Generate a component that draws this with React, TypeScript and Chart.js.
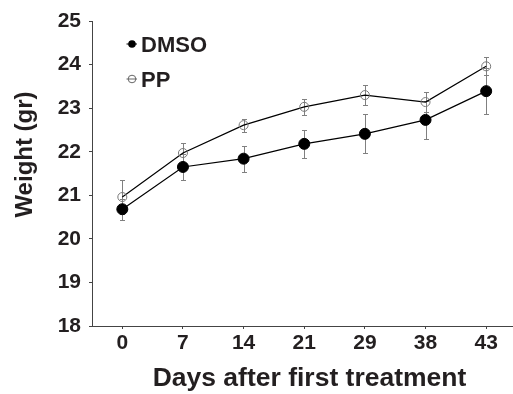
import React, { useEffect, useRef } from "react";
import { Chart, registerables } from "chart.js";

Chart.register(...registerables);

// ---- data ----
const days = ["0", "7", "14", "21", "29", "38", "43"];
const dmsoValues = [20.68, 21.65, 21.84, 22.18, 22.41, 22.73, 23.39];
const dmsoErrors = [0.24, 0.3, 0.3, 0.32, 0.45, 0.43, 0.53];
const ppValues = [20.96, 21.97, 22.61, 23.03, 23.3, 23.14, 23.96];
const ppErrors = [0.4, 0.24, 0.15, 0.18, 0.23, 0.24, 0.21];
const yMin = 18;
const yMax = 25;
const yStep = 1;
const seriesNames = ["DMSO", "PP"];
const xTitle = "Days after first treatment";
const yTitle = "Weight (gr)";

const FONT = "'Liberation Sans', Arial, Helvetica, sans-serif";
const TEXT = "#231f20";
const AXIS = "#444444";
const errorSets = [dmsoErrors, ppErrors];

const errorBarsPlugin = {
  id: "errorBars",
  beforeDatasetsDraw(chart: any) {
    const { ctx } = chart;
    const ys = chart.scales.y;
    chart.data.datasets.forEach((ds: any, di: number) => {
      const meta = chart.getDatasetMeta(di);
      const errs = errorSets[di];
      ctx.save();
      ctx.strokeStyle = "#808080";
      ctx.lineWidth = 1;
      meta.data.forEach((pt: any, i: number) => {
        const v = ds.data[i];
        const e = errs[i];
        const x = Math.round(pt.x) + 0.5;
        const top = Math.round(ys.getPixelForValue(v + e)) + 0.5;
        const bot = Math.round(ys.getPixelForValue(v - e)) + 0.5;
        ctx.beginPath();
        ctx.moveTo(x, top);
        ctx.lineTo(x, bot);
        ctx.moveTo(x - 2.5, top);
        ctx.lineTo(x + 2.5, top);
        ctx.moveTo(x - 2.5, bot);
        ctx.lineTo(x + 2.5, bot);
        ctx.stroke();
      });
      ctx.restore();
    });
  },
};

const textPlugin = {
  id: "customText",
  afterDraw(chart: any) {
    const { ctx, chartArea } = chart;
    ctx.save();
    ctx.fillStyle = TEXT;
    // x title
    ctx.font = `bold 26.5px ${FONT}`;
    ctx.textAlign = "center";
    ctx.textBaseline = "alphabetic";
    ctx.fillText(xTitle, 309.5, chartArea.bottom + 60);
    // y title
    ctx.save();
    ctx.translate(31.5, 154.5);
    ctx.rotate(-Math.PI / 2);
    ctx.font = `bold 24px ${FONT}`;
    ctx.fillText(yTitle, 0, 0);
    ctx.restore();
    // legend
    const rows = [
      { y: 44, text: seriesNames[0], filled: true },
      { y: 79, text: seriesNames[1], filled: false },
    ];
    rows.forEach((r) => {
      ctx.strokeStyle = r.filled ? "#000" : "#666";
      ctx.lineWidth = 1;
      ctx.beginPath();
      ctx.moveTo(126.5, r.y);
      ctx.lineTo(137, r.y);
      ctx.stroke();
      ctx.beginPath();
      ctx.arc(132, r.y, 3.8, 0, Math.PI * 2);
      if (r.filled) {
        ctx.fillStyle = "#000";
        ctx.fill();
      } else {
        ctx.stroke();
      }
      ctx.fillStyle = TEXT;
      ctx.font = `bold 22px ${FONT}`;
      ctx.textAlign = "left";
      ctx.textBaseline = "alphabetic";
      ctx.fillText(r.text, 141, r.y + 7.5);
    });
    ctx.restore();
  },
};

export default function App() {
  const ref = useRef<HTMLCanvasElement | null>(null);
  useEffect(() => {
    if (!ref.current) return;
    const chart = new Chart(ref.current, {
      type: "line",
      data: {
        labels: days,
        datasets: [
          {
            label: seriesNames[0],
            data: dmsoValues,
            borderColor: "#000",
            borderWidth: 1.2,
            pointRadius: 5.5,
            pointBackgroundColor: "#000",
            pointBorderColor: "#000",
            pointBorderWidth: 1,
            tension: 0,
          },
          {
            label: seriesNames[1],
            data: ppValues,
            borderColor: "#000",
            borderWidth: 1.2,
            pointRadius: 4.5,
            pointBackgroundColor: "rgba(255,255,255,0)",
            pointBorderColor: "#777",
            pointBorderWidth: 1,
            tension: 0,
          },
        ],
      },
      options: {
        responsive: false,
        animation: false,
        events: [],
        layout: { padding: { top: 21, right: 0, left: 0, bottom: 0 } },
        plugins: { legend: { display: false }, tooltip: { enabled: false } },
        scales: {
          x: {
            type: "category",
            offset: true,
            afterFit: (s: any) => {
              s.height = 68;
              s.paddingRight = 0;
              s.paddingLeft = 0;
            },
            grid: {
              drawOnChartArea: false,
              drawTicks: true,
              tickLength: 3,
              color: AXIS,
              offset: false,
            },
            border: { display: true, color: AXIS, width: 1 },
            ticks: {
              color: TEXT,
              font: { family: FONT, size: 21, weight: "bold" },
              padding: 2,
              maxRotation: 0,
            },
          },
          y: {
            min: yMin,
            max: yMax,
            afterFit: (s: any) => {
              s.width = 92;
            },
            grid: {
              drawOnChartArea: false,
              drawTicks: true,
              tickLength: 3,
              color: AXIS,
            },
            border: { display: true, color: AXIS, width: 1 },
            ticks: {
              stepSize: yStep,
              color: TEXT,
              font: { family: FONT, size: 21, weight: "bold" },
              padding: 8,
            },
          },
        },
      },
      plugins: [errorBarsPlugin, textPlugin],
    } as any);
    return () => chart.destroy();
  }, []);
  return (
    <div style={{ position: "fixed", left: 0, top: 0, width: 513, height: 394, overflow: "hidden", background: "#fff" }}>
      <canvas ref={ref} width={523} height={394} style={{ display: "block" }} />
    </div>
  );
}
